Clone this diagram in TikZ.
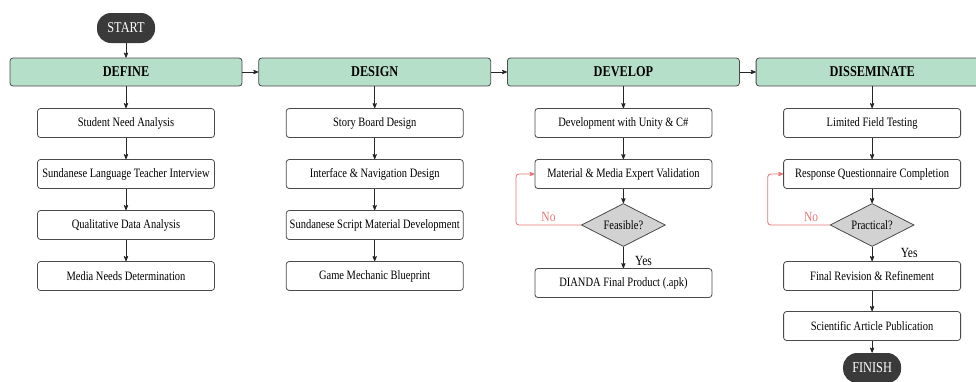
\documentclass[tikz,border=0pt]{standalone}
\usepackage{fontspec}
\setmainfont[FakeStretch=0.82]{Liberation Serif}
\usetikzlibrary{arrows,shapes.geometric}
\definecolor{phasegreen}{HTML}{B6DFCA}
\definecolor{termgray}{HTML}{3A3A3A}
\definecolor{checkgray}{HTML}{D2D2D2}
\definecolor{loopred}{HTML}{E87474}
\definecolor{edgegray}{HTML}{4A4A4A}

\begin{document}
\begin{tikzpicture}[x=1pt,y=-1pt,->,>=stealth',shorten >=0pt,auto,node distance=51pt,
  line width=0.8pt,color=black!85,
  phase node/.style={rectangle,rounded corners=3pt,draw=edgegray,fill=phasegreen,text=black,minimum width=232pt,minimum height=28pt,font=\fontsize{15}{17}\selectfont\bfseries},
  step node/.style={rectangle,rounded corners=3pt,draw=edgegray,fill=white,text=black,minimum width=177pt,minimum height=29pt,font=\fontsize{12.8}{14}\selectfont},
  end node/.style={rectangle,rounded corners=14pt,fill=termgray,text=white,minimum width=58pt,minimum height=30pt,font=\fontsize{15}{17}\selectfont},
  check node/.style={diamond,aspect=2,draw=edgegray,fill=checkgray,text=black,inner sep=0pt,minimum width=84pt,minimum height=43pt,font=\fontsize{12.8}{14}\selectfont}]

 \path[use as bounding box] (0,0) rectangle (976,381);
 \clip (0,0) rectangle (976,381);

 \node[phase node] (define) at (126,72) {DEFINE};
 \node[phase node] (design) [right of=define, node distance=248.7pt] {DESIGN};
 \node[phase node] (develop) [right of=design, node distance=248.7pt] {DEVELOP};
 \node[phase node] (disseminate) [right of=develop, node distance=248.7pt] {DISSEMINATE};
 \node[end node] (start) [above of=define, node distance=44pt] {START};

 \node[step node] (need) [below of=define] {Student Need Analysis};
 \node[step node] (interview) [below of=need] {Sundanese Language Teacher Interview};
 \node[step node] (qualitative) [below of=interview] {Qualitative Data Analysis};
 \node[step node] (media) [below of=qualitative] {Media Needs Determination};

 \node[step node] (story) [below of=design] {Story Board Design};
 \node[step node] (interface) [below of=story] {Interface \& Navigation Design};
 \node[step node] (script) [below of=interface] {Sundanese Script Material Development};
 \node[step node] (blueprint) [below of=script] {Game Mechanic Blueprint};

 \node[step node] (unity) [below of=develop] {Development with Unity \& C\#};
 \node[step node] (expert) [below of=unity] {Material \& Media Expert Validation};
 \node[check node] (feasible) [below of=expert] {Feasible?};
 \node[step node] (dianda) [below of=feasible, node distance=58pt] {DIANDA Final Product (.apk)};

 \node[step node] (field) [below of=disseminate] {Limited Field Testing};
 \node[step node] (questionnaire) [below of=field] {Response Questionnaire Completion};
 \node[check node] (practical) [below of=questionnaire] {Practical?};
 \node[step node] (revision) [below of=practical] {Final Revision \& Refinement};
 \node[step node] (article) [below of=revision, node distance=50pt] {Scientific Article Publication};
 \node[end node] (finish) [below of=article, node distance=42pt] {FINISH};

 \path[every node/.style={font=\fontsize{14}{16}\selectfont,text=black}]
    (start)         edge (define)
    (define)        edge (design)
    (design)        edge (develop)
    (develop)       edge (disseminate)
    (define)        edge (need)
    (need)          edge (interview)
    (interview)     edge (qualitative)
    (qualitative)   edge (media)
    (design)        edge (story)
    (story)         edge (interface)
    (interface)     edge (script)
    (script)        edge (blueprint)
    (develop)       edge (unity)
    (unity)         edge (expert)
    (expert)        edge (feasible)
    (feasible)      edge node[right,pos=0.65,xshift=8pt] {Yes} (dianda)
    (disseminate)   edge (field)
    (field)         edge (questionnaire)
    (questionnaire) edge (practical)
    (practical)     edge node[right,pos=0.4,xshift=25pt] {Yes} (revision)
    (revision)      edge (article)
    (article)       edge (finish);

 % back to validation when the check fails
 \draw[loopred,rounded corners=3pt] (feasible.west) -- ++(-65pt,0)
    node[midway,above,font=\fontsize{14}{16}\selectfont] {No} |- (expert.west);
 \draw[loopred,rounded corners=3pt] (practical.west) -- ++(-62pt,0)
    node[pos=0.3,above,font=\fontsize{14}{16}\selectfont] {No} |- (questionnaire.west);

\end{tikzpicture}
\end{document}
